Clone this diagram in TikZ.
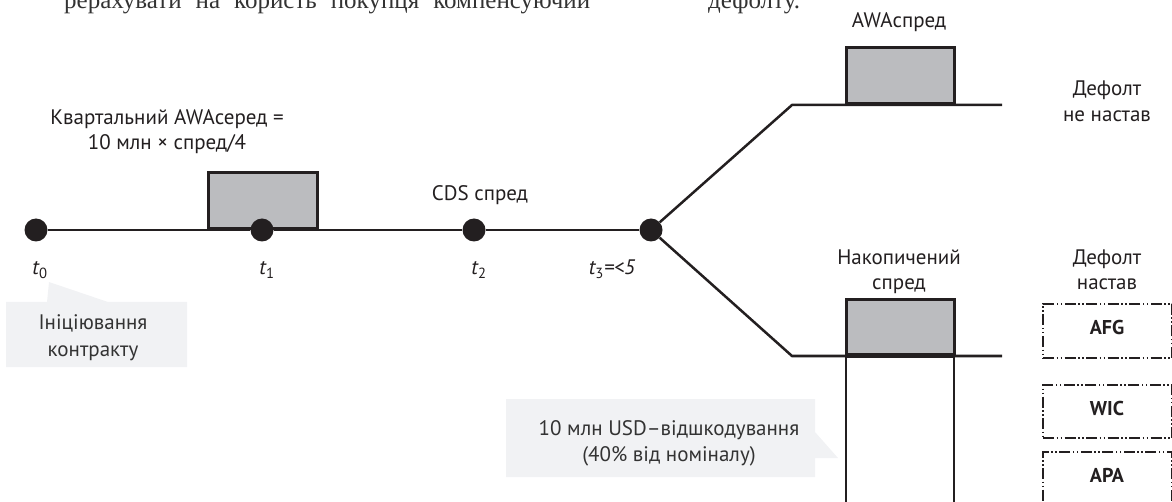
\documentclass[tikz,border=0pt]{standalone}
\usepackage{fontspec}
\setmainfont{PT Sans}
\newfontfamily\bodyserif{Liberation Serif}
\definecolor{ink}{HTML}{231F20}
\definecolor{boxgray}{HTML}{BBBCBF}
\definecolor{notegray}{HTML}{F1F2F4}
\definecolor{notetext}{HTML}{333333}
\begin{document}
\begin{tikzpicture}[x=1pt,y=-1pt,
  every node/.style={text=ink},
  lbl/.style={anchor=base,inner sep=0pt,font=\fontsize{21}{25}\selectfont},
  tlbl/.style={anchor=base,inner sep=0pt,font=\fontsize{21}{25}\selectfont\itshape},
  notelbl/.style={anchor=base,inner sep=0pt,text=notetext,font=\fontsize{21}{25}\selectfont},
  codelbl/.style={anchor=base,inner sep=0pt,font=\fontsize{20}{24}\selectfont\bfseries},
  prose/.style={anchor=base west,inner sep=0pt,text=notetext,font=\bodyserif\fontsize{25}{30}\selectfont},
  dot/.style={circle,fill=ink,inner sep=0pt,minimum size=23pt},
  track/.style={draw=ink,line width=2.5pt},
  paybox/.style={draw=ink,fill=boxgray,line width=2.5pt,inner sep=0pt,anchor=south west},
  column/.style={draw=ink,line width=2pt,inner sep=0pt,anchor=north west},
  casebox/.style={draw=ink,line width=2pt,inner sep=0pt,anchor=north west,
    minimum width=129pt,
    dash pattern=on 11pt off 2.5pt on 1.5pt off 2.5pt on 1.5pt off 2.5pt},
  note/.style={fill=notegray,draw=none}]
\clip (0,0) rectangle (1172,502);

% running text cut at the top edge
\node[prose] (prose1) at (64,9) {\makebox[526pt][s]{рерахувати на користь покупця компенсуючий}};
\node[prose] (prose2) at (708,9) {дефолту.};

% quarterly payment box on the timeline
\node[paybox,minimum width=109pt,minimum height=56pt] (pay1) at (207,230) {};

% timeline dots
\node[dot] (d0) at (36,230) {};
\node[dot] (d1) at (262,230) {};
\node[dot] (d2) at (474,230) {};
\node[dot] (d3) at (651,230) {};
\draw[track] (d0) -- (d1) -- (d2) -- (d3);

% branches after t3
\coordinate (upA) at (792,105);
\coordinate (upB) at (1002,105);
\coordinate (loA) at (792,356);
\coordinate (loB) at (1002,356);

% payments on the two branches
\node[paybox,minimum width=108pt,minimum height=56pt] (pay2) at (845,105) {};
\node[column,minimum width=108pt,minimum height=170pt] (col) at (845,356) {};
\node[paybox,minimum width=108pt,minimum height=55pt] (pay3) at (845,356) {};

\draw[track] (d3) -- (upA) -- (upB);
\draw[track] (d3) -- (loA) -- (loB);

% labels on the timeline
\node[lbl] (q1) at (167,125) {Квартальний AWAсеред =};
\node[lbl] (q2) at (167,150) {10 млн × спред/4};
\node[lbl] (cds) at (480,201) {CDS спред};
\node[tlbl] (t0) at (40,275) {t\textsubscript{\upshape 0}};
\node[tlbl] (t1) at (267,275) {t\textsubscript{\upshape 1}};
\node[tlbl] (t2) at (479,275) {t\textsubscript{\upshape 2}};
\node[tlbl] (t3) at (612,275) {t\textsubscript{\upshape 3}=<5};

% labels on the branches
\node[lbl] (awa) at (899,28) {AWAспред};
\node[lbl] (nd1) at (1107,96) {Дефолт};
\node[lbl] (nd2) at (1107,122) {не настав};
\node[lbl] (acc1) at (899,265) {Накопичений};
\node[lbl] (acc2) at (899,290) {спред};
\node[lbl] (df1) at (1107,265) {Дефолт};
\node[lbl] (df2) at (1107,290) {настав};

% defaulting reference entities
\node[casebox,minimum height=54pt] (afg) at (1042,303) {};
\node[casebox,minimum height=53pt] (wic) at (1042,384) {};
\node[casebox,minimum height=70pt] (apa) at (1042,451) {};
\node[codelbl] (afgt) at (1107,335) {AFG};
\node[codelbl] (wict) at (1107,415) {WIC};
\node[codelbl] (apat) at (1107,482) {APA};

% callouts
\fill[note] (6,302) -- (47,302) -- (49,282) -- (108,302) -- (187,302)
  -- (187,367) -- (6,367) -- cycle;
\node[notelbl] (init1) at (93,330) {Ініціювання};
\node[notelbl] (init2) at (93,356) {контракту};

\fill[note] (506,399) -- (815,399) -- (815,432) -- (838,458) -- (815,458)
  -- (815,477) -- (506,477) -- cycle;
\node[notelbl] (rec1) at (669,435) {10 млн USD–відшкодування};
\node[notelbl] (rec2) at (669,461) {(40\% від номіналу)};
\end{tikzpicture}
\end{document}
